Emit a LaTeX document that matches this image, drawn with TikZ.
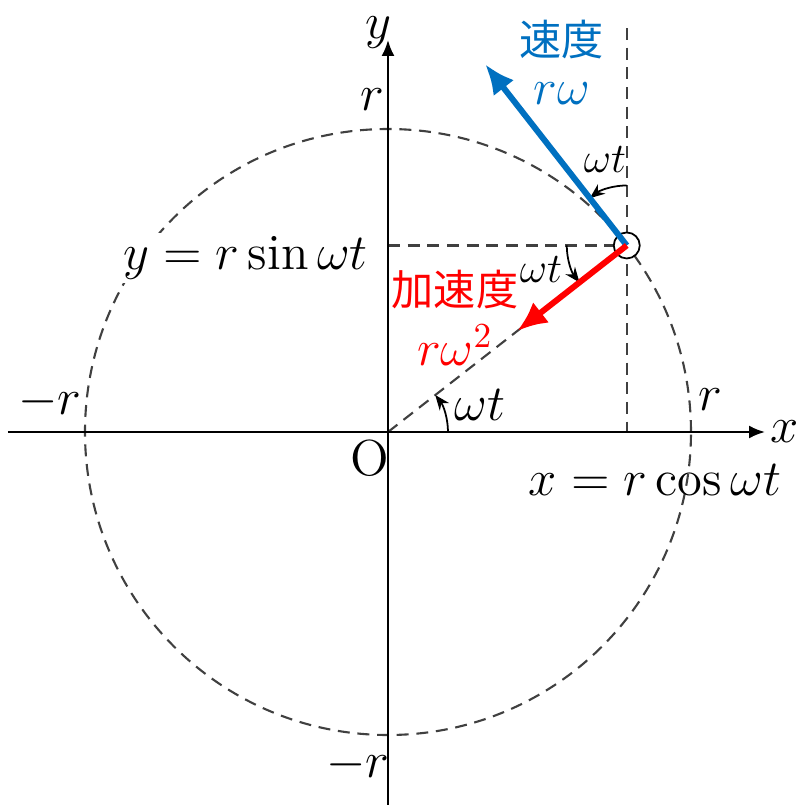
\documentclass[tikz,border=0pt]{standalone}
\usepackage{amsmath}
\usepackage{fontspec}
\newfontfamily\jp{Noto Sans CJK JP}
\usetikzlibrary{arrows.meta}
\definecolor{velblue}{RGB}{0,112,192}
\definecolor{accred}{RGB}{255,0,0}

\begin{document}
\begin{tikzpicture}[
    axis/.style={-{Latex[length=1.6mm,width=1.3mm]}, line width=0.6pt},
    guide/.style={line width=0.6pt, black!75, dash pattern=on 3.4pt off 2.2pt},
    vec/.style={-{Latex[length=3mm,width=2.6mm]}, line width=1.7pt},
    angarrow/.style={-{Stealth[length=1.5mm,width=1.2mm]}, line width=0.5pt},
    lbl/.style={font=\Large},
    small/.style={font=\large},
    jtext/.style={font=\jp\large}
]
\useasboundingbox (-3.88,-3.73) rectangle (4.09,4.32);

% points
\coordinate (O) at (0,0);
\coordinate (P) at (38:3.03);
\coordinate (xs) at (-3.80,0);
\coordinate (xe) at (3.77,0);
\coordinate (ys) at (0,-3.73);
\coordinate (ye) at (0,3.92);
\coordinate (Ptop) at (P |- 0,4.04);
\coordinate (Px) at (P |- O);
\coordinate (Py) at (P -| O);
\path (P) ++(128:2.3) coordinate (vtip);
\path (P) ++(218:1.39) coordinate (atip);

% circle and guides
\draw[guide] (O) circle (3.03);
\draw[guide] (O) -- (P);
\draw[guide] (Ptop) -- (Px);
\draw[guide] (Py) -- (P);

% axes
\draw[axis] (xs) -- (xe);
\draw[axis] (ys) -- (ye);
\node[lbl] (xlab) at (3.97,0) {$x$};
\node[lbl, inner sep=1pt] (ylab) at (-0.1,3.99) {$y$};
\node[lbl] (rtop) at (-0.16,3.32) {$r$};
\node[lbl] (rbot) at (-0.30,-3.33) {$-r$};
\node[lbl] (rleft) at (-3.38,0.30) {$-r$};
\node[lbl] (rright) at (3.22,0.32) {$r$};
\node[lbl] (olab) at (-0.18,-0.26) {O};
\node[lbl, fill=white, inner sep=1pt, anchor=east] (ysin) at (-0.16,1.74) {$y = r\sin\omega t$};
\node[lbl] (xcos) at (2.67,-0.48) {$x = r\cos\omega t$};

% angles
\draw[angarrow] (O) ++(0:0.6) arc[start angle=0, end angle=38, radius=0.6];
\node[lbl] (th0) at (0.92,0.27) {$\omega t$};
\draw[angarrow] (P) ++(90:0.6) arc[start angle=90, end angle=128, radius=0.6];
\node[small] (th1) at (2.17,2.72) {$\omega t$};
\draw[angarrow] (P) ++(180:0.6) arc[start angle=180, end angle=218, radius=0.6];
\node[small] (th2) at (1.53,1.62) {$\omega t$};

% particle and vectors
\node[circle, draw, fill=white, inner sep=0pt, minimum size=0.26cm, line width=0.5pt] (Pdot) at (P) {};
\draw[vec, velblue] (P) -- (vtip);
\draw[vec, accred] (P) -- (atip);

\node[jtext, text=velblue] (vname) at (1.74,3.92) {速度};
\node[lbl, text=velblue] (vval) at (1.74,3.38) {$r\omega$};
\node[jtext, text=accred] (aname) at (0.67,1.42) {加速度};
\node[lbl, text=accred] (aval) at (0.67,0.87) {$r\omega^2$};
\end{tikzpicture}
\end{document}
